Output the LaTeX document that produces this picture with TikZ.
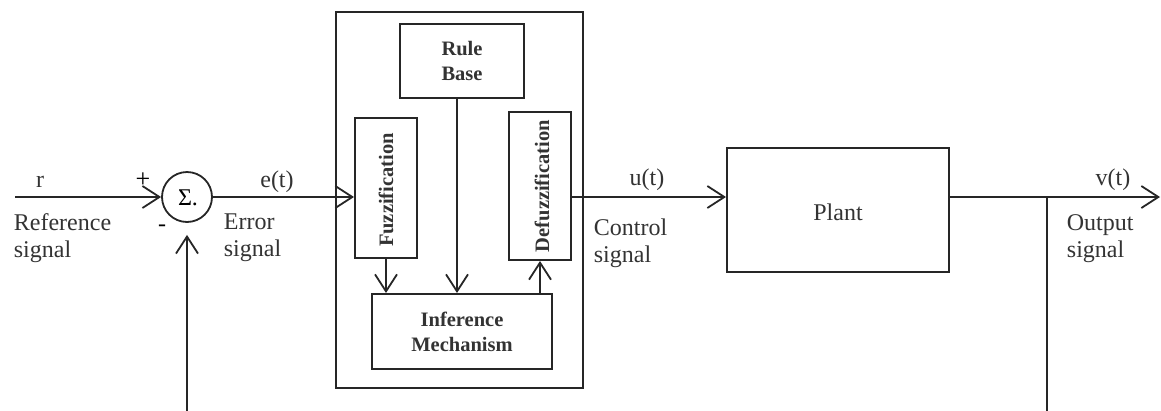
\documentclass[tikz,border=0pt]{standalone}
\usepackage{fontspec}
\setmainfont{Liberation Serif}
\usetikzlibrary{arrows.meta}
\begin{document}
\begin{tikzpicture}[x=1pt,y=-1pt,
  line width=1.8pt, draw=black!85,
  arr/.style={-{Straight Barb[length=17pt,width=22pt,line width=1.8pt]}},
  blk/.style={draw, rectangle, inner sep=0pt, line width=2pt},
  lbl/.style={font=\fontsize{24}{27}\selectfont, inner sep=0pt, text=black!80},
  sig/.style={font=\fontsize{24}{27}\selectfont, inner sep=0pt, align=left, anchor=west, text=black!80},
  bl/.style={font=\fontsize{20.5}{25}\selectfont\bfseries, inner sep=0pt, align=center, text=black!80}]
\useasboundingbox (0,0) rectangle (1161,410);
\clip (0,0) rectangle (1161,410);
\fill[white] (0,0) rectangle (1161,410);

% blocks
\node[blk, minimum width=247pt, minimum height=376pt] (outer) at (459.5,200) {};
\node[blk, minimum width=124pt, minimum height=74pt] (rule) at (462,61) {};
\node[bl] at (rule) {Rule\\Base};
\node[blk, minimum width=62pt, minimum height=140pt] (fuzz) at (386,188) {};
\node[bl, rotate=90] at (386,190) {Fuzzification};
\node[blk, minimum width=62pt, minimum height=148pt] (defuzz) at (540,186) {};
\node[bl, rotate=90] at (542,186) {Defuzzification};
\node[blk, minimum width=180pt, minimum height=75pt] (inf) at (462,331.5) {};
\node[bl] at (inf) {Inference\\Mechanism};
\node[blk, minimum width=222pt, minimum height=124pt] (plant) at (838,210) {};
\node[lbl] at (838,212) {Plant};
\node[draw, circle, minimum size=50pt, inner sep=0pt, line width=1.8pt] (sigma) at (187,197) {};
\node[font=\fontsize{24}{26}\selectfont, inner sep=0pt] at (188,198) {Σ.};

% coordinates
\coordinate (rin) at (15,197);
\coordinate (yline) at (0,197);
\coordinate (out) at (1160,197);
\coordinate (j) at (1047,197);
\coordinate (fb) at (1047,430);

% connectors
\draw[arr] (rin) -- (sigma.west);
\draw[arr] (sigma.east) -- (sigma.east -| fuzz.west);
\draw[arr] (fuzz.south) -- (fuzz.south |- inf.north);
\draw[arr] ([xshift=-5pt]rule.south) -- ([xshift=-5pt]rule.south |- inf.north);
\draw[arr] (defuzz.south |- inf.north) -- (defuzz.south);
\draw[arr] (defuzz.east |- yline) -- (plant.west |- yline);
\draw[arr] (plant.east |- yline) -- (out);
\draw[arr, shorten >=12pt] (j) -- (fb) -| (sigma.south);

% labels
\node[lbl, anchor=base] at (40,187) {r};
\node[font=\fontsize{26}{28}\selectfont, inner sep=0pt] at (143,180) {+};
\node[font=\fontsize{24}{26}\selectfont, inner sep=0pt] at (162,228) {-};
\node[lbl, anchor=base] at (277,187) {e(t)};
\node[lbl, anchor=base] at (647,185) {u(t)};
\node[lbl, anchor=base] at (1113,185) {v(t)};
\node[sig] at (13,238) {Reference\\signal};
\node[sig] at (223,238) {Error\\signal};
\node[sig] at (593,243) {Control\\signal};
\node[sig] at (1066,238.5) {Output\\signal};
\end{tikzpicture}
\end{document}
